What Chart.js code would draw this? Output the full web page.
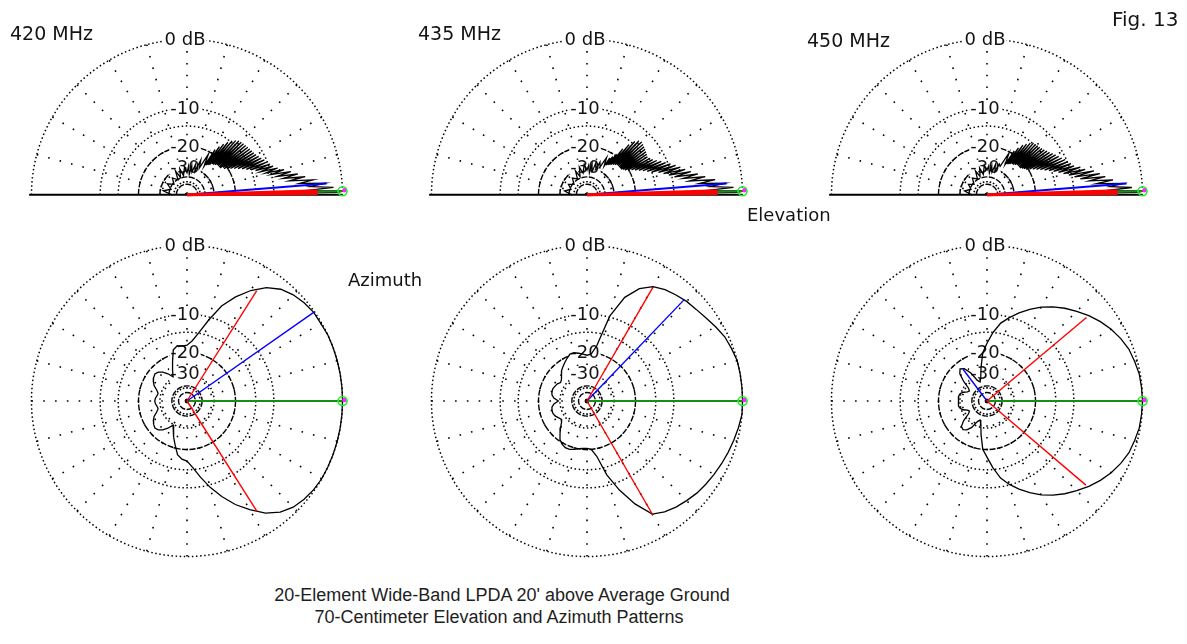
<!DOCTYPE html>
<html>
<head>
<meta charset="utf-8">
<script src="https://cdn.jsdelivr.net/npm/chart.js@4.4.0/dist/chart.umd.min.js"></script>
<style>
html,body{margin:0;padding:0;background:#fff;}
body{width:1187px;height:644px;position:relative;overflow:hidden;}
canvas{position:absolute;}
.lbl{position:absolute;white-space:nowrap;font-family:'DejaVu Sans',sans-serif;font-size:18px;line-height:18px;color:#141414;z-index:5;}
.title{position:absolute;white-space:nowrap;font-family:'Liberation Sans',Arial,sans-serif;font-size:18px;line-height:18px;color:#1e1e1e;z-index:5;transform:translateX(-50%);}
</style>
</head>
<body>
<div class="lbl" style="left:10px;top:24px;font-size:19px">420 MHz</div>
<div class="lbl" style="left:418px;top:24px;font-size:19px">435 MHz</div>
<div class="lbl" style="left:807px;top:31px;font-size:19px">450 MHz</div>
<div class="lbl" style="left:1112px;top:10px;font-size:20px">Fig. 13</div>
<div class="lbl" style="left:747px;top:206px">Elevation</div>
<div class="lbl" style="left:348px;top:271px">Azimuth</div>
<div class="title" style="left:502px;top:586px">20-Element Wide-Band LPDA 20' above Average Ground</div>
<div class="title" style="left:499px;top:608px">70-Centimeter Elevation and Azimuth Patterns</div>

<canvas id="e420" width="360" height="190" style="left:7px;top:25px"></canvas>
<canvas id="e435" width="360" height="190" style="left:407px;top:25px"></canvas>
<canvas id="e450" width="360" height="190" style="left:807px;top:25px"></canvas>
<canvas id="a420" width="360" height="360" style="left:7px;top:221px"></canvas>
<canvas id="a435" width="360" height="360" style="left:407px;top:221px"></canvas>
<canvas id="a450" width="360" height="360" style="left:807px;top:221px"></canvas>

<script>
// ---------------- DATA (angles in degrees, gains in dB) ----------------
const frequencies = ['420 MHz', '435 MHz', '450 MHz'];

// ring tick labels
const ringLabels = ['0 dB', '-10', '-20', '-30'];
const ringLabelDb = [0, -10, -20, -30];
const dottedRingDb = [0, -10, -14, -30];
const azSolidRingDb = [-20, -40, -50];
const elevSolidRingDb = [-20, -30, -37, -46];

// azimuth patterns
const azAngles = [0,5,10,15,20,25,30,35,40,45,50,55,60,65,70,75,80,85,90,95,100,105,110,115,120,125,130,135,140,145,150,155,160,165,170,175,180,185,190,195,200,205,210,215,220,225,230,235,240,245,250,255,260,265,270,275,280,285,290,295,300,305,310,315,320,325,330,335,340,345,350,355];
const az420 = [0,0,0,0,0,0,-0.1,-0.1,-0.3,-0.6,-1.1,-2.0,-3.4,-5.2,-7.4,-10.6,-13.8,-16.2,-17.6,-17.8,-17.5,-18.5,-22.4,-26,-29.5,-26.5,-24.3,-23,-22.5,-23,-23.8,-25,-27,-28.3,-28,-27.3,-27,-27.3,-28,-28.3,-27,-25,-23.8,-23,-22.5,-23,-24.3,-26.5,-29.5,-27,-24,-21,-18,-16.8,-16.3,-14.5,-12,-9.5,-7.3,-5.3,-3.7,-2.2,-1.2,-0.6,-0.3,-0.1,0,0,0,0,0,0];
const az435 = [0,0,0,0,-0.2,-0.4,-0.8,-1.2,-1.5,-1.7,-2.0,-2.3,-2.8,-3.9,-5.9,-9.8,-17.5,-20.5,-21,-20.5,-20,-19.5,-19.5,-20.5,-21.5,-22.5,-23.5,-25,-26.5,-27,-26,-25.5,-25,-25,-25.3,-26.5,-29,-26.5,-25.3,-25,-25,-25.5,-26.5,-27.4,-26.5,-24.5,-22.5,-20.5,-19.5,-19,-19,-19.5,-20,-20.3,-20.4,-20,-17.5,-12.2,-8.5,-5.4,-3.0,-2.4,-2.0,-1.7,-1.4,-1.2,-1.0,-0.8,-0.6,-0.4,-0.2,0];
const az450 = [0,-0.05,-0.1,-0.3,-0.5,-0.9,-1.4,-2.0,-2.7,-3.5,-4.3,-5.2,-6.2,-7.4,-8.7,-10.1,-11.6,-14,-17,-20,-26,-32,-35,-33,-27,-23.5,-22.5,-24,-28,-33,-35,-34,-31,-29.5,-29,-29,-29,-29,-29,-29.5,-31,-34,-35,-33,-28,-25,-24.5,-25.5,-28,-33,-35,-32,-26,-20,-17.5,-14.5,-11.8,-10.1,-8.7,-7.4,-6.2,-5.2,-4.3,-3.5,-2.7,-2.0,-1.4,-0.9,-0.5,-0.3,-0.1,-0.05];

// azimuth marker lines: [angle, dB]
const azGreen420 = [0, 0], azGreen435 = [0, 0], azGreen450 = [0, 0];
const azRed420 = [[57.7, -3.0], [-57.6, -3.0]];
const azRed435 = [[59.9, -2.9], [-60.0, -2.9]];
const azRed450 = [[40.0, -3.1], [-40.4, -3.1]];
const azBlue420 = [35, -0.1];
const azBlue435 = [46.2, -1.75];
const azBlue450 = [127, -23.4];

// elevation patterns
const elevAngles = [0,1,1.5,2,3,4,5,6,7,8,9,10,11,12,13,14,15,16,17,18,19,20,21,22,23,24,25,26,27,28,29,30,31,32,33,34,35,36,37,38,39,40,41,42,43,44,45,46,47,48,49,50,51,52,53,54,55,56,57,58,59,60,63,66,69,72,75,78,81,84,87,90,95,100,105,110,115,120,130,140,150,160,170,180];
const elev420 = [-40,-0.5,0,-5,
  -1,-4,-2,-5.5,-3.5,-7,-4.5,-8,-5.5,-9,-6.5,-10,-7.5,-11,-8.5,-12,-9.2,
  -13,-9.6,-14,-10,-15,-10.3,-16,-10.7,-17,-11,-18,-11.3,-19,-11.5,-20,-11.6,-21,-11.7,-21,-11.8,-22,-11.9,-22,-12,-22,-12.1,-22,-12.3,-22.5,-12.7,-23,-13.3,-23,-14.2,-24,-15.3,-24.5,-16.5,-25,-18,-26,
  -20.5,-28,-24,-31,-27,-32,-28,-34,-28.5,-33,
  -29,-35,-29.5,-36,-30,-37,
  -33,-38,-33,-38,-32,-40];
const elev435 = [-40,-0.5,0,-5,
  -1,-4,-2,-5.5,-3.2,-7,-4.5,-8,-5.5,-9.5,-6.5,-10.5,-7.3,-11.5,-8,-12.5,-8.7,
  -14,-9.5,-15,-10.3,-16,-11,-17,-11.8,-18,-12.5,-19,-13,-20,-13.2,-21,-13,-21.5,-12.8,-22,-12.6,-22,-12.4,-22,-12.2,-22,-12,-22,-12.3,-22.5,-13,-23,-14.5,-23.5,-16.5,-24,-19,-24.5,-20.5,-25,-21.5,-26,
  -22,-28,-25,-30,-26,-32,-27,-33,-28,-31,
  -27.5,-33,-28.5,-35,-30,-36,
  -33,-38,-34,-38,-33,-40];
const elev450 = [-40,-0.5,0,-5,
  -1.2,-4,-2.3,-6,-3.5,-7,-4.5,-8.5,-5.2,-9.5,-6,-10.5,-7.3,-11.5,-8,-12.5,-9,
  -13.5,-9.4,-14.5,-9.8,-15.5,-10.1,-16.5,-10.6,-17.5,-11,-18.5,-11.4,-19.5,-11.8,-20.5,-12.2,-21,-12.5,-21.5,-12.8,-22,-13,-22,-13.2,-22,-13.3,-22,-13.4,-22.5,-13.5,-23,-14,-23,-14.8,-23.5,-15.6,-24,-17,-24.5,-18.5,-25,
  -20,-27,-26,-31,-27,-32,-28,-33,-28.5,-31,
  -28,-34,-29,-35,-30,-36,
  -33,-38,-34,-38,-33,-40];

// elevation marker lines: [angle, dB]
const elevGreen = [1.4, 0];
const elevRed = [[0.6, -3.0], [1.9, -3.0]];
const elevBlue = [4.8, -1.8];

// ---------------- helpers ----------------
const R = 161;                 // pixel radius of the 0 dB ring
const spokeStep = 15;          // grid spoke spacing (deg)
function rhoOf(db) { return Math.pow(0.89, -db / 2); }   // ARRL log scale
function pt(angleDeg, db) {
  const r = rhoOf(db), a = angleDeg * Math.PI / 180;
  return { x: r * Math.cos(a), y: r * Math.sin(a) };
}

const polarGrid = {
  id: 'polarGrid',
  beforeDatasetsDraw(chart, args, opts) {
    const ctx = chart.ctx, xs = chart.scales.x, ys = chart.scales.y;
    const cx = xs.getPixelForValue(0), cy = ys.getPixelForValue(0);
    const unit = xs.getPixelForValue(1) - cx;
    const half = opts.half;
    const a0 = half ? Math.PI : 0, a1 = 2 * Math.PI;
    ctx.save();
    ctx.strokeStyle = '#000';
    // spokes
    ctx.lineWidth = 1.6;
    ctx.setLineDash([1.6, 10.2]);
    for (let d = 0; d < 360; d += spokeStep) {
      if (half && (d <= 0 || d >= 180)) continue;
      const a = d * Math.PI / 180;
      ctx.beginPath();
      ctx.moveTo(cx + unit * Math.cos(a), cy - unit * Math.sin(a));
      ctx.lineTo(cx, cy);
      ctx.stroke();
    }
    // dotted rings
    ctx.lineWidth = 1.5;
    ctx.setLineDash([1.5, 2.6]);
    for (const db of dottedRingDb) {
      ctx.beginPath();
      ctx.arc(cx, cy, rhoOf(db) * unit, a0, a1);
      ctx.stroke();
    }
    // dashed black rings
    ctx.lineWidth = 1.4;
    ctx.setLineDash([6, 1.5]);
    for (const db of (half ? elevSolidRingDb : azSolidRingDb)) {
      ctx.beginPath();
      ctx.arc(cx, cy, rhoOf(db) * unit, a0, a1);
      ctx.stroke();
    }
    ctx.setLineDash([]);
    // ground line
    if (half) {
      ctx.lineWidth = 2;
      ctx.beginPath();
      ctx.moveTo(cx - 1.015 * unit, cy);
      ctx.lineTo(cx + unit, cy);
      ctx.stroke();
    }
    // ring labels
    ctx.font = '18px "DejaVu Sans", sans-serif';
    ctx.textAlign = 'center';
    ctx.textBaseline = 'alphabetic';
    ringLabels.forEach((t, i) => {
      const yy = cy - rhoOf(ringLabelDb[i]) * unit;
      const w = ctx.measureText(t).width;
      ctx.fillStyle = '#fff';
      ctx.fillRect(cx - 2 - w / 2 - 1, yy - 8, w + 2, 15);
      ctx.fillStyle = '#141414';
      ctx.fillText(t, cx - 2, yy + 5.5);
    });
    ctx.restore();
  }
};

function buildChart(id, cfg) {
  const ds = [];
  const gEnd = pt(cfg.green[0], cfg.green[1]);
  ds.push({ data: [gEnd], showLine: false, pointRadius: 4.5, pointBorderWidth: 1.6,
            pointBorderColor: '#22ee22', pointBackgroundColor: 'rgba(0,0,0,0)', order: 0 });
  ds.push({ data: [{ x: gEnd.x + 0.012, y: gEnd.y + 0.006 }], showLine: false, pointRadius: 2.2,
            pointBorderWidth: 0, pointBackgroundColor: '#ff22ff', order: 0 });
  cfg.red.forEach(r => ds.push({ data: [{ x: 0, y: 0 }, pt(r[0], r[1])], showLine: true, pointRadius: 0,
            borderColor: '#ff0000', borderWidth: cfg.half ? 3 : 1.4, order: 1 }));
  ds.push({ data: [{ x: 0, y: 0 }, pt(cfg.blue[0], cfg.blue[1])], showLine: true, pointRadius: 0,
            borderColor: '#0000ff', borderWidth: cfg.half ? 2 : 1.4, order: 1 });
  ds.push({ data: [{ x: 0, y: 0 }, gEnd], showLine: true, pointRadius: 0,
            borderColor: '#139013', borderWidth: 2, order: 1.5 });
  const pts = cfg.angles.map((a, i) => pt(a, cfg.db[i]));
  if (!cfg.half) pts.push(pts[0]);
  ds.push({ data: pts, showLine: true, pointRadius: 0, borderColor: '#000',
            borderWidth: 1.3, tension: 0, order: 2 });

  new Chart(document.getElementById(id), {
    type: 'scatter',
    data: { datasets: ds },
    options: {
      responsive: false, animation: false, devicePixelRatio: 1, events: [],
      layout: { padding: 0 },
      plugins: { legend: { display: false }, tooltip: { enabled: false }, polarGrid: { half: cfg.half } },
      scales: {
        x: { type: 'linear', display: false, min: -180 / R, max: 180 / R },
        y: { type: 'linear', display: false,
             min: cfg.half ? -15 / R : -180 / R, max: cfg.half ? 175 / R : 180 / R }
      }
    },
    plugins: [polarGrid]
  });
}

buildChart('e420', { half: true, angles: elevAngles, db: elev420, green: elevGreen, red: elevRed, blue: elevBlue });
buildChart('e435', { half: true, angles: elevAngles, db: elev435, green: elevGreen, red: elevRed, blue: elevBlue });
buildChart('e450', { half: true, angles: elevAngles, db: elev450, green: elevGreen, red: elevRed, blue: elevBlue });
buildChart('a420', { half: false, angles: azAngles, db: az420, green: azGreen420, red: azRed420, blue: azBlue420 });
buildChart('a435', { half: false, angles: azAngles, db: az435, green: azGreen435, red: azRed435, blue: azBlue435 });
buildChart('a450', { half: false, angles: azAngles, db: az450, green: azGreen450, red: azRed450, blue: azBlue450 });
</script>
</body>
</html>
